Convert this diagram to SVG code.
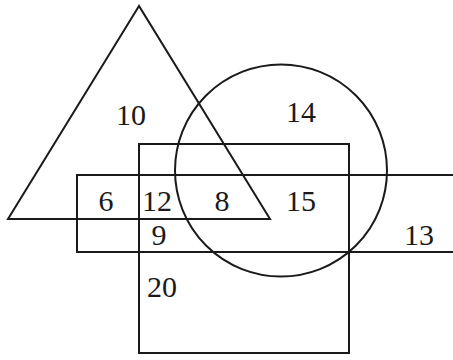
<svg xmlns="http://www.w3.org/2000/svg" width="453" height="360" viewBox="0 0 453 360">
<style>
.s{fill:none;stroke:#1a1a1a;stroke-width:2}
text{font-family:"Liberation Serif","DejaVu Serif",serif;font-size:30px;fill:#1a1a1a;text-anchor:middle}
</style>
<rect width="453" height="360" fill="#fff"/>
<g id="triangle"><polygon class="s" points="139,6 8,219 270,219"/></g>
<g id="circle"><circle class="s" cx="281" cy="170.5" r="106"/></g>
<g id="square"><rect class="s" x="139" y="144" width="210" height="209"/></g>
<g id="rectangle"><polyline class="s" points="455,175 77,175 77,252 455,252"/></g>
<g id="labels">
<text x="131" y="125">10</text>
<text x="301" y="122">14</text>
<text x="106" y="211">6</text>
<text x="157" y="211">12</text>
<text x="222" y="211">8</text>
<text x="301" y="211">15</text>
<text x="159" y="245">9</text>
<text x="419" y="245">13</text>
<text x="162" y="297">20</text>
</g>
</svg>
